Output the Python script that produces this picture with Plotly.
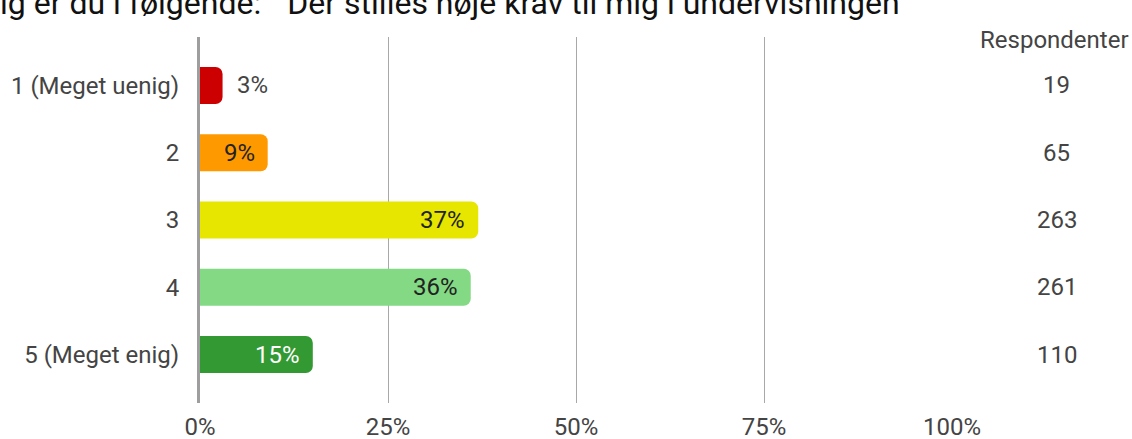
import plotly.graph_objects as go

kategorier = ["1 (Meget uenig)", "2", "3", "4", "5 (Meget enig)"]
procent = [3, 9, 37, 36, 15]
respondenter = [19, 65, 263, 261, 110]
farver = ["#cc0000", "#ff9900", "#e6e600", "#83d984", "#339933"]
tekstfarver = ["#444444", "#222222", "#222222", "#222222", "#ffffff"]
x_ticks = [0, 25, 50, 75, 100]
x_ticktekst = ["0%", "25%", "50%", "75%", "100%"]

titel = 'ig er du i følgende:  "Der stilles høje krav til mig i undervisningen"'

FONT = "Roboto, Arial, sans-serif"

fig = go.Figure()
fig.add_trace(go.Bar(
    x=procent,
    y=list(range(len(kategorier))),
    orientation="h",
    width=0.55,
    marker=dict(color=farver, line=dict(width=0), cornerradius=7),
    hoverinfo="skip",
))

# procent-tekster ved enden af hver bjælke
for i, (p, farve) in enumerate(zip(procent, tekstfarver)):
    inde = p >= 5
    fig.add_annotation(
        x=p, y=i, xref="x", yref="y",
        text=f"{p}%",
        showarrow=False,
        xanchor="right" if inde else "left",
        xshift=-11 if inde else 12,
        font=dict(size=24, color=farve, family=FONT),
    )

# kolonne med antal respondenter
fig.add_annotation(
    x=1.1365, y=1.0355, xref="paper", yref="paper",
    text="Respondenter", showarrow=False, xanchor="center",
    font=dict(size=24, color="#444444", family=FONT),
)
for i, n in enumerate(respondenter):
    fig.add_annotation(
        x=1.1395, y=i, xref="paper", yref="y",
        text=str(n), showarrow=False, xanchor="center",
        font=dict(size=24, color="#444444", family=FONT),
    )

# titel (beskåret i toppen som i originalen)
fig.add_annotation(
    x=-0.268, y=1.092, xref="paper", yref="paper",
    text=titel, showarrow=False,
    xanchor="left", yanchor="middle",
    font=dict(size=32, color="#111111", family=FONT),
)

fig.update_layout(
    width=1132,
    height=439,
    margin=dict(l=200, r=180, t=37, b=36),
    paper_bgcolor="white",
    plot_bgcolor="white",
    showlegend=False,
    font=dict(family=FONT, size=24, color="#444444"),
    xaxis=dict(
        range=[0, 100],
        tickvals=x_ticks,
        ticktext=x_ticktekst,
        showgrid=True,
        gridcolor="#a8a8a8",
        gridwidth=1,
        zeroline=False,
        showline=False,
        ticks="",
        ticklabelstandoff=7,
        automargin=False,
        tickfont=dict(size=24, color="#444444", family=FONT),
        fixedrange=True,
    ),
    yaxis=dict(
        range=[4.72, -0.72],
        tickvals=list(range(len(kategorier))),
        ticktext=kategorier,
        showgrid=False,
        zeroline=False,
        showline=True,
        linecolor="#9e9e9e",
        linewidth=3,
        ticks="",
        ticklabelstandoff=13,
        automargin=False,
        tickfont=dict(size=24, color="#444444", family=FONT),
        fixedrange=True,
    ),
)

# fjern standardmargen i body, så figuren flugter med vinduet
fig.write_html(
    "out.html",
    config={"displayModeBar": False},
    post_script="document.body.style.margin='0';",
)
